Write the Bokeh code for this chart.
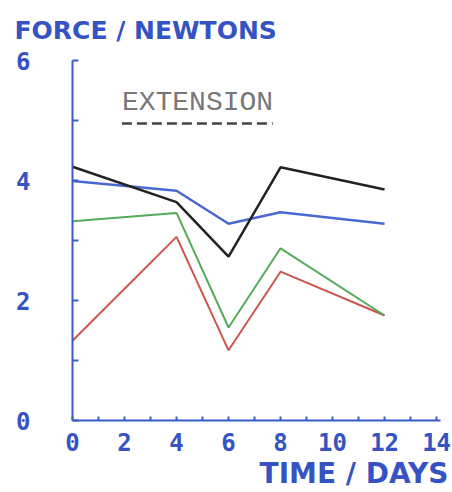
from bokeh.plotting import figure
from bokeh.models import FixedTicker, Label, Range1d, Title
from bokeh.embed import file_html
from bokeh.resources import INLINE

# ---- data ----
days = [0, 4, 6, 8, 12]
black_force = [4.23, 3.64, 2.73, 4.22, 3.85]
blue_force = [3.99, 3.83, 3.28, 3.47, 3.28]
green_force = [3.32, 3.46, 1.55, 2.87, 1.75]
red_force = [1.33, 3.06, 1.17, 2.48, 1.75]

x_ticks = list(range(0, 15))
x_tick_labels = {t: (str(t) if t % 2 == 0 else "") for t in x_ticks}
y_ticks = list(range(0, 7))
y_tick_labels = {t: (str(t) if t % 2 == 0 else "") for t in y_ticks}

y_title = "FORCE / NEWTONS"
x_title = "TIME / DAYS"
legend_text = "EXTENSION"
legend_x = [1.9, 7.7]
legend_y = 5.3
legend_dash_y = 4.95

# ---- style ----
AXIS_BLUE = "#3a5cc8"
TEXT_BLUE = "#3553c2"
TICK_FONT = "DejaVu Sans Mono"
TITLE_FONT = "DejaVu Sans"

p = figure(width=452, height=492, output_backend="svg", toolbar_location=None,
           x_range=Range1d(0, 14.15), y_range=Range1d(0, 6),
           min_border_left=72, min_border_right=12, min_border_top=60,
           min_border_bottom=72)
p.background_fill_color = "white"
p.border_fill_color = "white"
p.outline_line_color = None
p.grid.visible = False

p.title.text = y_title
p.title.align = "left"
p.title.vertical_align = "top"
p.title.offset = -58
p.title.text_font = TITLE_FONT
p.title.text_font_style = "bold"
p.title.text_font_size = "25px"
p.title.text_color = TEXT_BLUE
p.title.standoff = 28

p.add_layout(Title(text=x_title, align="right", offset=-8, text_font=TITLE_FONT,
                   text_font_style="bold", text_font_size="28px",
                   text_color=TEXT_BLUE, standoff=3), "below")

for ax in (p.xaxis[0], p.yaxis[0]):
    ax.axis_line_color = AXIS_BLUE
    ax.axis_line_width = 2
    ax.major_tick_line_color = AXIS_BLUE
    ax.major_tick_line_width = 2
    ax.major_tick_out = 0
    ax.minor_tick_line_color = None
    ax.major_label_text_font = TICK_FONT
    ax.major_label_text_font_style = "bold"
    ax.major_label_text_font_size = "24px"
    ax.major_label_text_color = TEXT_BLUE

p.xaxis.ticker = FixedTicker(ticks=x_ticks)
p.xaxis.major_label_overrides = x_tick_labels
p.xaxis.major_tick_in = 4
p.xaxis.major_label_standoff = 12

p.yaxis.ticker = FixedTicker(ticks=y_ticks)
p.yaxis.major_label_overrides = y_tick_labels
p.yaxis.major_tick_in = 6
p.yaxis.major_label_standoff = 42

p.line(days, red_force, line_color="#cc5550", line_width=2)
p.line(days, green_force, line_color="#55aa5a", line_width=2)
p.line(days, blue_force, line_color="#4a68d0", line_width=2.5)
p.line(days, black_force, line_color="#222222", line_width=2.5)

p.add_layout(Label(x=legend_x[0], y=legend_y, text=legend_text,
                   text_font="Liberation Mono", text_font_size="28px",
                   text_color="#777777", text_baseline="middle"))
p.line(legend_x, [legend_dash_y, legend_dash_y], line_color="#444444",
       line_width=2.5, line_dash="10 5")

open("out.html", "w").write(file_html(p, INLINE))
